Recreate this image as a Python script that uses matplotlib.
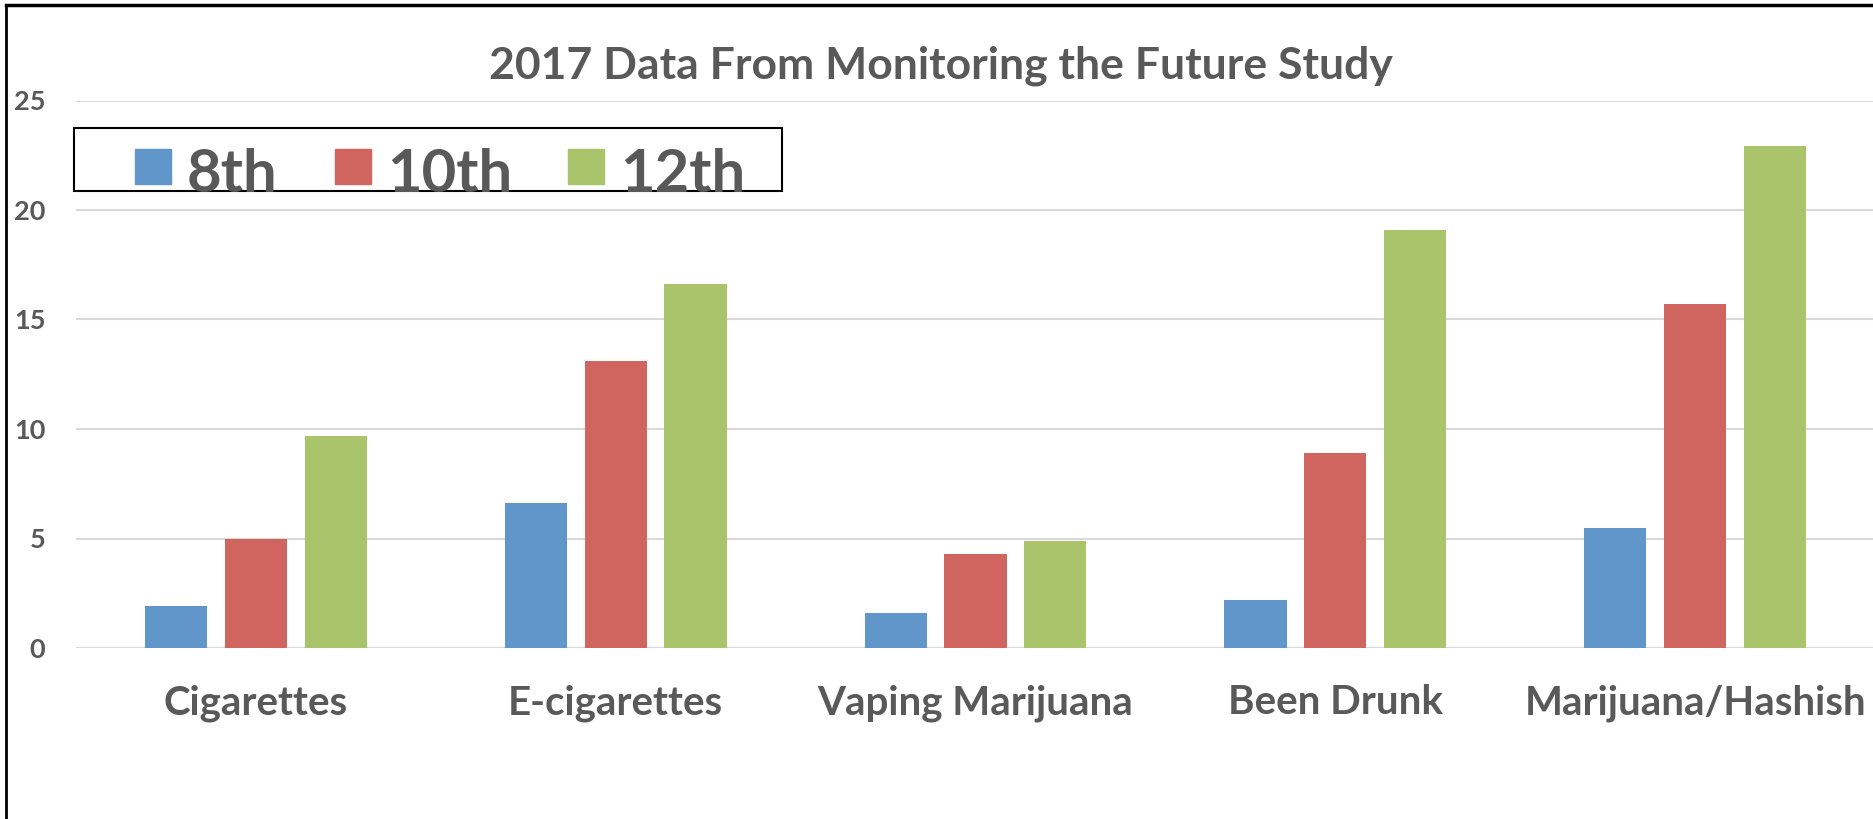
# Grafico de barras agrupadas: Monitoring the Future 2017
import numpy as np
import matplotlib
matplotlib.use('Agg')
import matplotlib.pyplot as plt
from matplotlib.patches import Rectangle
from matplotlib.lines import Line2D

# Datos
categories = ['Cigarettes', 'E-cigarettes', 'Vaping Marijuana', 'Been Drunk', 'Marijuana/Hashish']
grades = ['8th', '10th', '12th']
grade_8 = [1.9, 6.6, 1.6, 2.2, 5.5]
grade_10 = [5.0, 13.1, 4.3, 8.9, 15.7]
grade_12 = [9.7, 16.6, 4.9, 19.1, 22.9]
y_ticks = [0, 5, 10, 15, 20, 25]

colors = ['#6096CA', '#D0655F', '#AAC46B']
text_color = '#595959'
W, H = 1874, 819

plt.rcParams['font.family'] = ['Lato', 'DejaVu Sans']
plt.rcParams['font.weight'] = 'bold'


def fx(px):
    return px / W


def fy(py):
    # y en pixeles desde arriba -> fraccion de figura
    return 1 - py / H


fig = plt.figure(figsize=(W / 100, H / 100), dpi=100)
ax = fig.add_axes([fx(76), fy(648), fx(1875 - 76), fy(100.5) - fy(648)])

x = np.arange(len(categories))
offset = 0.222
width = 0.173
series = [grade_8, grade_10, grade_12]
for i, vals in enumerate(series):
    ax.bar(x + (i - 1) * offset, vals, width, color=colors[i], zorder=3)

# Configurar ejes
ax.set_xlim(-0.5, len(categories) - 0.5)
ax.set_ylim(0, 25)
ax.set_yticks(y_ticks)
ax.set_xticks(x)
ax.set_xticklabels(categories)
ax.tick_params(axis='y', length=0, pad=22, labelsize=19.5, labelcolor=text_color)
ax.tick_params(axis='x', length=0, pad=26, labelsize=29, labelcolor=text_color)
for lab in ax.get_yticklabels() + ax.get_xticklabels():
    lab.set_fontweight('bold')
ax.grid(axis='y', color='#D9D9D9', linewidth=1.5, zorder=0)
for s in ax.spines.values():
    s.set_visible(False)

# Titulo
fig.text(fx(941), fy(78), '2017 Data From Monitoring the Future Study',
         ha='center', va='baseline', fontsize=32, fontweight='bold', color=text_color)

# Leyenda dibujada a mano (el texto sobresale del recuadro)
fig.add_artist(Rectangle((fx(74), fy(191)), fx(782 - 74), fy(127.7) - fy(191),
                         transform=fig.transFigure, fill=False,
                         edgecolor='black', linewidth=1.5, zorder=5))
square_x = [135, 335, 568]
for sx, name, c in zip(square_x, grades, colors):
    fig.add_artist(Rectangle((fx(sx), fy(184)), fx(36), fy(149) - fy(184),
                             transform=fig.transFigure, color=c, zorder=6))
    fig.text(fx(sx + 52), fy(192), name, ha='left', va='baseline',
             fontsize=43, fontweight='bold', color=text_color, zorder=7)

# Marco exterior (solo se ven los bordes izquierdo y superior)
fig.add_artist(Line2D([fx(6), fx(6)], [0, fy(5)], transform=fig.transFigure,
                      color='black', linewidth=2))
fig.add_artist(Line2D([fx(6), 1], [fy(5), fy(5)], transform=fig.transFigure,
                      color='black', linewidth=2.5))

fig.savefig('out.png', dpi=100)
